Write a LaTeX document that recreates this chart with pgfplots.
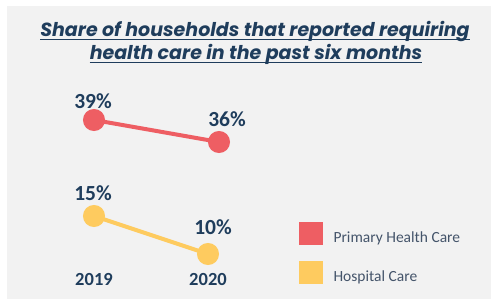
\documentclass[border=0pt]{standalone}
\usepackage{pgfplots}
\pgfplotsset{compat=1.18}
\usepackage{fontspec}
\setmainfont{Carlito}
\newfontfamily\titlefont{Poppins}
\definecolor{bgc}{HTML}{F2F2F2}
\definecolor{phc}{HTML}{EE5E63}
\definecolor{hosp}{HTML}{FECB5F}
\definecolor{navy}{HTML}{1F3D5C}
\definecolor{slate}{HTML}{44546A}
\begin{document}
\begin{tikzpicture}
\path[use as bounding box] (0,0) rectangle (491pt,299pt);
\fill[bgc] (7pt,0) rectangle (491pt,293pt);
\node[font=\titlefont\bfseries\itshape\fontsize{19}{22}\selectfont, text=navy, inner sep=0pt, anchor=base] (t1) at (255pt,262pt) {Share of households that reported requiring};
\node[font=\titlefont\bfseries\itshape\fontsize{19}{22}\selectfont, text=navy, inner sep=0pt, anchor=base] (t2) at (256pt,239pt) {health care in the past six months};
\draw[navy, line width=1.2pt] ([yshift=-2.5pt]t1.base west) -- ([yshift=-2.5pt]t1.base east);
\draw[navy, line width=1.2pt] ([yshift=-2.5pt]t2.base west) -- ([yshift=-2.5pt]t2.base east);

% Primary Health Care
\begin{axis}[at={(94pt,157pt)}, anchor=south west, scale only axis,
  width=125pt, height=22pt, xmin=2019, xmax=2020, ymin=36, ymax=39,
  hide axis, clip=false]
\addplot[phc, line width=4pt, mark=*, mark size=9pt, mark options={draw=none, fill=phc}]
  coordinates {(2019,39) (2020,36)};
\node[font=\bfseries\fontsize{21.5}{24}\selectfont, text=navy, inner sep=0pt, xshift=-1pt, yshift=19pt] at (axis cs:2019,39) {39\%};
\node[font=\bfseries\fontsize{21.5}{24}\selectfont, text=navy, inner sep=0pt, xshift=8pt, yshift=23pt] at (axis cs:2020,36) {36\%};
\end{axis}

% Hospital Care
\begin{axis}[at={(94pt,45pt)}, anchor=south west, scale only axis,
  width=114pt, height=38pt, xmin=2019, xmax=2020, ymin=10, ymax=15,
  clip=false, axis line style={draw=none}, ytick=\empty,
  xtick={2019,2020}, xticklabels={2019,2020}, major tick length=0pt,
  xticklabel style={font=\bfseries\fontsize{18.5}{21}\selectfont, text=navy, anchor=base, yshift=-32pt},
  legend style={at={(1.798,0.04)}, anchor=west, draw=none, fill=none, inner sep=0pt,
    row sep=17pt, column sep=11pt, font=\fontsize{15.5}{18}\selectfont, text=slate,
    nodes={inner sep=0pt}},
  legend cell align=left]
\addplot[hosp, line width=4pt, mark=*, mark size=9pt, mark options={draw=none, fill=hosp}, forget plot]
  coordinates {(2019,15) (2020,10)};
\node[font=\bfseries\fontsize{21.5}{24}\selectfont, text=navy, inner sep=0pt, xshift=-1pt, yshift=23pt] at (axis cs:2019,15) {15\%};
\node[font=\bfseries\fontsize{21.5}{24}\selectfont, text=navy, inner sep=0pt, xshift=5pt, yshift=27pt] at (axis cs:2020,10) {10\%};
\addlegendimage{legend image code/.code={\fill[phc] (0pt,-6pt) rectangle (23pt,16pt);}}
\addlegendentry{Primary Health Care}
\addlegendimage{legend image code/.code={\fill[hosp] (0pt,-6pt) rectangle (23pt,16pt);}}
\addlegendentry{Hospital Care}
\end{axis}
\end{tikzpicture}
\end{document}
